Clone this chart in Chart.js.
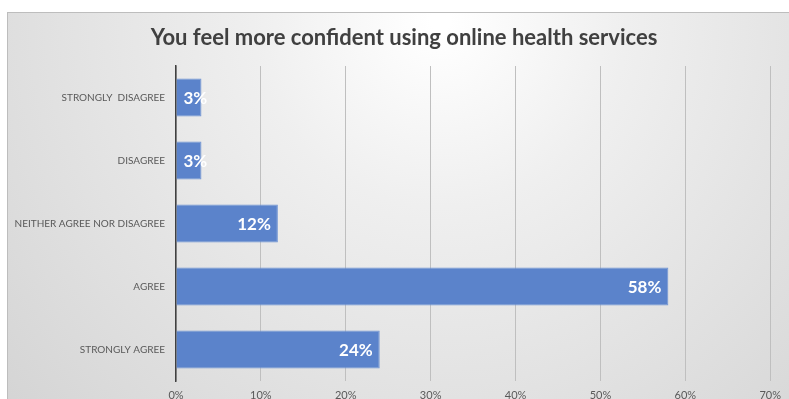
<!DOCTYPE html>
<html>
<head>
<meta charset="utf-8">
<script src="https://cdn.jsdelivr.net/npm/chart.js@4/dist/chart.umd.min.js"></script>
<style>
  html, body { margin: 0; padding: 0; background: #fff; }
  #wrap { width: 789px; height: 399px; }
</style>
</head>
<body>
<div id="wrap"><canvas id="surveyChart"></canvas></div>
<script>
const chartTitle = 'You feel more confident using online health services';
const answers = ['STRONGLY  DISAGREE', 'DISAGREE', 'NEITHER AGREE NOR DISAGREE', 'AGREE', 'STRONGLY AGREE'];
const percents = [3, 3, 12, 58, 24];
const axisMax = 70;
const axisStep = 10;

const FONT = 'Lato, "Open Sans", sans-serif';

// grey framed panel with a soft light spot behind the title, title on top
const panelBg = {
    id: 'panelBg',
    beforeDraw(chart) {
        const c = chart.ctx;
        c.save();
        c.fillStyle = '#fff';
        c.fillRect(0, 0, chart.width, chart.height);
        let g = c.createRadialGradient(440, 20, 10, 440, 20, 600);
        g.addColorStop(0, '#ffffff');
        g.addColorStop(0.3, '#efefef');
        g.addColorStop(1, '#d3d3d3');
        c.fillStyle = g;
        c.fillRect(7, 12, chart.width, chart.height);
        c.strokeStyle = '#bdbdbd';
        c.lineWidth = 1;
        c.strokeRect(7.5, 12.5, chart.width + 10, chart.height + 10);

        c.font = 'bold 22px ' + FONT;
        c.fillStyle = '#404040';
        c.textAlign = 'center';
        c.textBaseline = 'middle';
        c.fillText(chartTitle, 404, 38);
        c.restore();
    }
};

// white value labels at the inside end of each bar
const barLabels = {
    id: 'barLabels',
    afterDatasetsDraw(chart) {
        const c = chart.ctx;
        const meta = chart.getDatasetMeta(0);
        c.save();
        c.font = 'bold 17px ' + FONT;
        c.fillStyle = '#ffffff';
        c.textAlign = 'right';
        c.textBaseline = 'middle';
        meta.data.forEach((bar, i) => {
            let txt = percents[i] + '%';
            let w = c.measureText(txt).width;
            let x = Math.max(bar.x - 7, bar.base + 7 + w);
            c.fillText(txt, x, bar.y + 1);
        });
        c.restore();
    }
};

let ctx = document.getElementById('surveyChart');
let myChart = new Chart(ctx, {
    type: 'bar',
    data: {
        labels: answers,
        datasets: [{
            data: percents,
            backgroundColor: '#5b83cb',
            borderColor: '#6f93d3',
            borderWidth: 1,
            barPercentage: 0.6,
            categoryPercentage: 1
        }]
    },
    options: {
        indexAxis: 'y',
        responsive: true,
        maintainAspectRatio: false,
        animation: false,
        layout: { padding: { left: 7, right: 14, top: 66, bottom: 0 } },
        plugins: {
            legend: { display: false },
            tooltip: { enabled: false },
            title: { display: false }
        },
        scales: {
            x: {
                min: 0,
                max: axisMax,
                ticks: {
                    stepSize: axisStep,
                    padding: 8,
                    color: '#595959',
                    font: { family: FONT, size: 11 },
                    callback: v => v + '%'
                },
                grid: { color: '#bfbfbf', lineWidth: 1, drawTicks: false },
                border: { display: false },
                afterFit(scale) { scale.height = 18; }
            },
            y: {
                ticks: {
                    padding: 11,
                    color: '#595959',
                    font: { family: FONT, size: 10 }
                },
                grid: { display: false, drawTicks: false },
                border: { color: '#404040', width: 1.5 },
                afterFit(scale) { scale.width = 169; }
            }
        }
    },
    plugins: [panelBg, barLabels]
});
</script>
</body>
</html>
